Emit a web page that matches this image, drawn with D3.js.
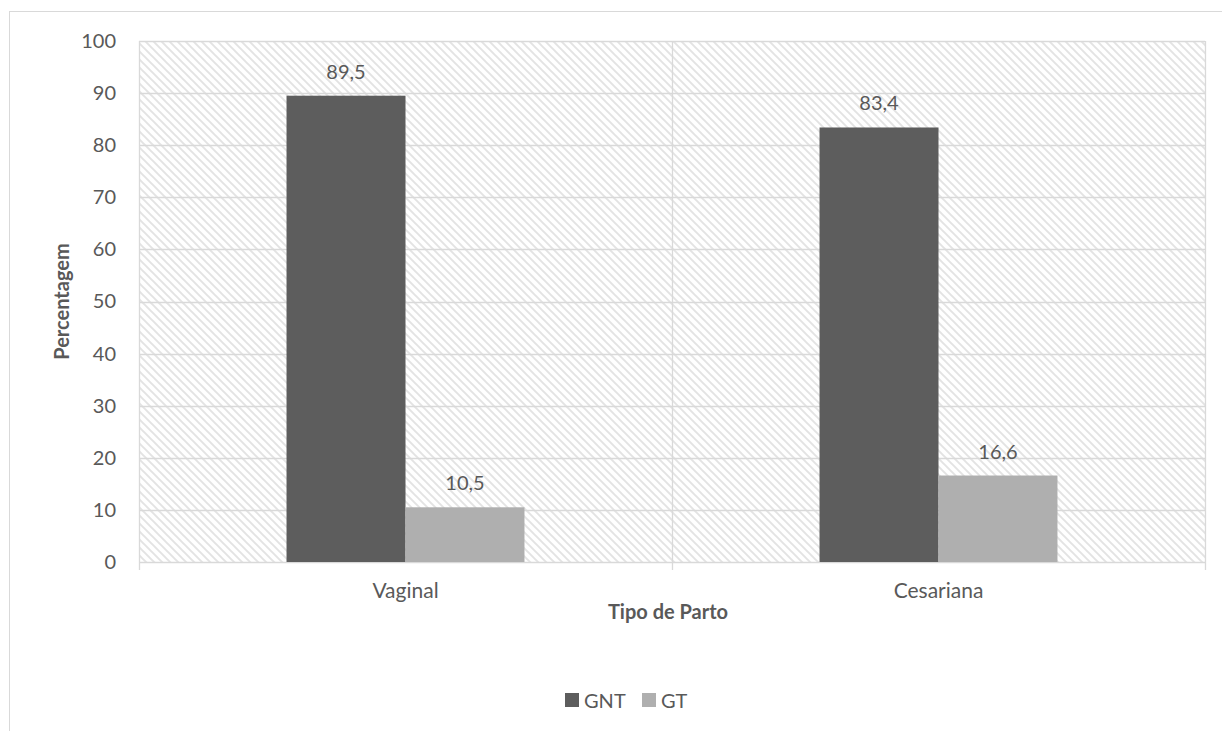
<!DOCTYPE html>
<html>
<head>
<meta charset="utf-8">
<script src="https://cdnjs.cloudflare.com/ajax/libs/d3/7.8.5/d3.min.js"></script>
<style>
  html, body { margin: 0; padding: 0; background: #fff; }
  svg { display: block; }
  text { font-family: Lato, "Open Sans", sans-serif; fill: #595959; }
</style>
</head>
<body>
<svg id="chart" width="1222" height="731"></svg>
<script>
// Data
const categories = ["Vaginal", "Cesariana"];
const seriesNames = ["GNT", "GT"];
const gntValues = [89.5, 83.4];
const gtValues = [10.5, 16.6];
const yTicks = [0, 10, 20, 30, 40, 50, 60, 70, 80, 90, 100];

const seriesColors = { GNT: "#5d5d5d", GT: "#afafaf" };
const rows = categories.map((c, i) => ({ cat: c, GNT: gntValues[i], GT: gtValues[i] }));

const svg = d3.select("#chart");
const plot = { left: 139, right: 1205, top: 41, bottom: 562 };

// outer chart frame (runs past the page edges)
svg.append("rect")
  .attr("x", 9.5).attr("y", 11.5)
  .attr("width", 1400).attr("height", 900)
  .attr("fill", "#fff").attr("stroke", "#d9d9d9").attr("stroke-width", 1);

// diagonal hatch for the plot background
const defs = svg.append("defs");
const pat = defs.append("pattern")
  .attr("id", "hatch").attr("patternUnits", "userSpaceOnUse")
  .attr("width", 8).attr("height", 8);
pat.append("rect").attr("width", 8).attr("height", 8).attr("fill", "#fff");
pat.append("path")
  .attr("d", "M-2,-2 L10,10 M-2,6 L2,10 M6,-2 L10,2")
  .attr("stroke", "#e3e3e3").attr("stroke-width", 1.9);

const x0 = d3.scaleBand().domain(categories).range([plot.left, plot.right]).padding(0);
const x1 = d3.scaleBand().domain(seriesNames).range([0, x0.bandwidth()]).paddingInner(0).paddingOuter(1.24);
const y = d3.scaleLinear().domain([0, 100]).range([plot.bottom, plot.top]);

svg.append("rect")
  .attr("x", plot.left).attr("y", plot.top)
  .attr("width", plot.right - plot.left).attr("height", plot.bottom - plot.top)
  .attr("fill", "url(#hatch)");

// horizontal gridlines
svg.append("g").selectAll("line").data(yTicks).join("line")
  .attr("x1", plot.left).attr("x2", plot.right)
  .attr("y1", d => Math.round(y(d)) + 0.5).attr("y2", d => Math.round(y(d)) + 0.5)
  .attr("stroke", "#d9d9d9").attr("stroke-width", 1.3);

// vertical category separators / ticks
const sepX = [plot.left, ...categories.slice(1).map(c => x0(c)), plot.right];
svg.append("g").selectAll("line").data(sepX).join("line")
  .attr("x1", d => Math.round(d) + 0.5).attr("x2", d => Math.round(d) + 0.5)
  .attr("y1", plot.top).attr("y2", plot.bottom + 8)
  .attr("stroke", "#d9d9d9").attr("stroke-width", 1.3);

// y axis labels
const yAxis = d3.axisLeft(y).tickValues(yTicks).tickSize(0).tickPadding(23);
const yg = svg.append("g").attr("transform", `translate(${plot.left},0)`).call(yAxis);
yg.select(".domain").remove();
yg.selectAll("text").style("font-size", "20px").attr("fill", "#595959")
  .style("font-family", "Lato, sans-serif");

// x axis labels
const xAxis = d3.axisBottom(x0).tickSize(0).tickPadding(21);
const xg = svg.append("g").attr("transform", `translate(0,${plot.bottom})`).call(xAxis);
xg.select(".domain").remove();
xg.selectAll("text").style("font-size", "21px").attr("fill", "#595959")
  .style("font-family", "Lato, sans-serif");

// bars
const groups = svg.append("g").selectAll("g").data(rows).join("g")
  .attr("transform", d => `translate(${x0(d.cat)},0)`);
groups.selectAll("rect")
  .data(d => seriesNames.map(s => ({ s, v: d[s] })))
  .join("rect")
  .attr("x", d => x1(d.s)).attr("width", x1.bandwidth())
  .attr("y", d => y(d.v)).attr("height", d => y(0) - y(d.v))
  .attr("fill", d => seriesColors[d.s]);

// value labels
groups.selectAll("text.val")
  .data(d => seriesNames.map(s => ({ s, v: d[s] })))
  .join("text").attr("class", "val")
  .attr("x", d => x1(d.s) + x1.bandwidth() / 2)
  .attr("y", d => y(d.v) - 17)
  .attr("text-anchor", "middle")
  .style("font-size", "20px")
  .text(d => d3.format(".1f")(d.v).replace(".", ","));

// axis titles
svg.append("text")
  .attr("transform", `translate(69,${(plot.top + plot.bottom) / 2}) rotate(-90)`)
  .attr("text-anchor", "middle")
  .style("font-size", "20px").style("font-weight", "bold")
  .text("Percentagem");

svg.append("text")
  .attr("x", (plot.left + plot.right) / 2 - 4).attr("y", 619)
  .attr("text-anchor", "middle")
  .style("font-size", "20px").style("font-weight", "bold")
  .text("Tipo de Parto");

// legend
const legendItems = [{ s: "GNT", x: 565 }, { s: "GT", x: 642 }];
const lg = svg.append("g").selectAll("g").data(legendItems).join("g")
  .attr("transform", d => `translate(${d.x},693)`);
lg.append("rect").attr("width", 14).attr("height", 14).attr("fill", d => seriesColors[d.s]);
lg.append("text").attr("x", 19).attr("y", 14.5)
  .style("font-size", "20px").text(d => d.s);
</script>
</body>
</html>
